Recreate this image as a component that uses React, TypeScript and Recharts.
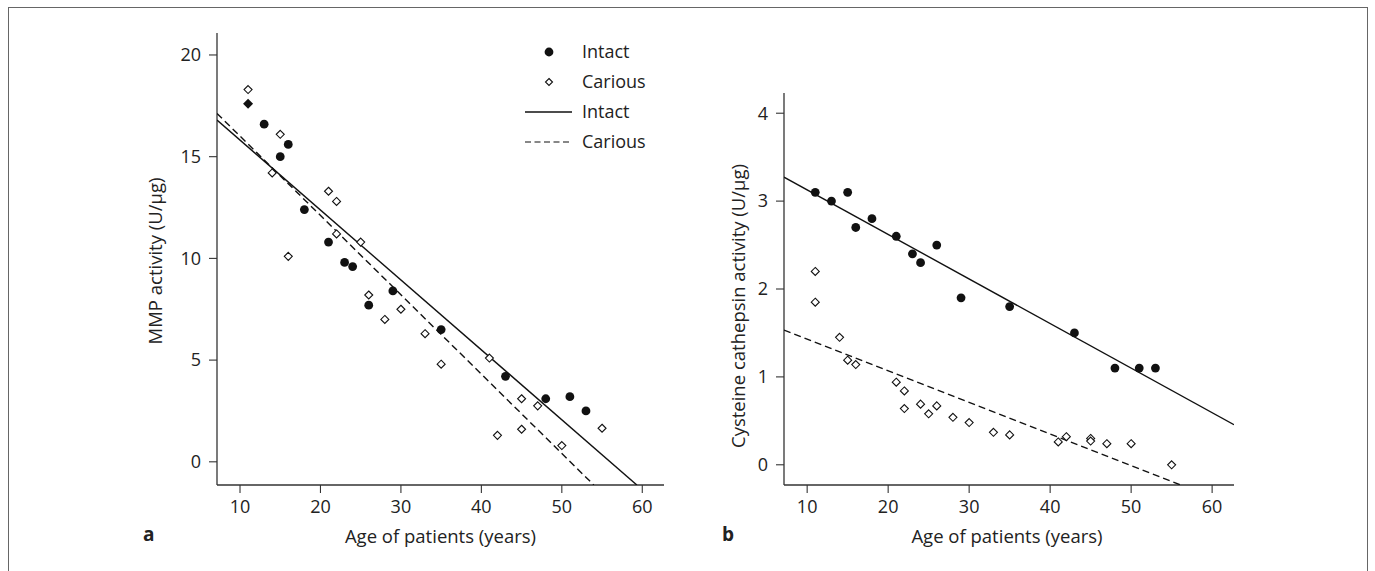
import React from "react";
import { ScatterChart, Scatter, XAxis, YAxis } from "recharts";

const FONT = "'Open Sans', 'Noto Sans', sans-serif";
const INK = "#111";
const AXIS = "#333";
const TEXT = "#222";

// Panel a: MMP activity (U/µg)
const intactAgesA = [11, 13, 15, 16, 18, 21, 23, 24, 26, 29, 35, 43, 48, 51, 53];
const intactMmp = [17.6, 16.6, 15.0, 15.6, 12.4, 10.8, 9.8, 9.6, 7.7, 8.4, 6.5, 4.2, 3.1, 3.2, 2.5];
const cariousAgesA = [11, 14, 15, 16, 21, 22, 22, 25, 26, 28, 30, 33, 35, 41, 42, 45, 45, 47, 50, 55];
const cariousMmp = [18.3, 14.2, 16.1, 10.1, 13.3, 12.8, 11.2, 10.8, 8.2, 7.0, 7.5, 6.3, 4.8, 5.1, 1.3, 3.1, 1.6, 2.75, 0.8, 1.65];
const intactFitA = [19.25, -0.3437]; // intercept, slope
const cariousFitA = [19.91, -0.39];

// Panel b: Cysteine cathepsin activity (U/µg)
const intactAgesB = [11, 13, 15, 16, 18, 21, 23, 24, 26, 29, 35, 43, 48, 51, 53];
const intactCath = [3.1, 3.0, 3.1, 2.7, 2.8, 2.6, 2.4, 2.3, 2.5, 1.9, 1.8, 1.5, 1.1, 1.1, 1.1];
const cariousAgesB = [11, 11, 14, 15, 16, 21, 22, 22, 24, 25, 26, 28, 30, 33, 35, 41, 42, 45, 45, 47, 50, 55];
const cariousCath = [2.2, 1.85, 1.45, 1.19, 1.14, 0.94, 0.84, 0.64, 0.69, 0.58, 0.67, 0.54, 0.48, 0.37, 0.34, 0.26, 0.32, 0.3, 0.27, 0.24, 0.24, 0.0];
const intactFitB = [3.635, -0.0507];
const cariousFitB = [1.79, -0.036];

const xTicks = [10, 20, 30, 40, 50, 60];
const yTicksA = [0, 5, 10, 15, 20];
const yTicksB = [0, 1, 2, 3, 4];
const xDomain: [number, number] = [7.14, 62.7];
const yDomainA: [number, number] = [-1.14, 21.08];
const yDomainB: [number, number] = [-0.23, 4.23];

const legendLabels = ["Intact", "Carious", "Intact", "Carious"];
const xTitle = "Age of patients (years)";
const yTitleA = "MMP activity (U/μg)";
const yTitleB = "Cysteine cathepsin activity (U/μg)";

const toPoints = (xs: number[], ys: number[]) => xs.map((x, i) => ({ x, y: ys[i] }));

// endpoints of a fitted line, clipped to the plotting box
const fitSegment = (fit: number[], xd: [number, number], yd: [number, number]) => {
  const [a, b] = fit;
  const f = (x: number) => a + b * x;
  let x0 = xd[0];
  if (f(x0) > yd[1]) x0 = (yd[1] - a) / b;
  let x1 = xd[1];
  if (f(x1) < yd[0]) x1 = (yd[0] - a) / b;
  return [
    { x: x0, y: f(x0) },
    { x: x1, y: f(x1) },
  ];
};

const Dot = (p: any) => <circle cx={p.cx} cy={p.cy} r={4.4} fill={INK} />;
const OpenDiamond = (p: any) => (
  <polygon
    points={`${p.cx},${p.cy - 4} ${p.cx + 4},${p.cy} ${p.cx},${p.cy + 4} ${p.cx - 4},${p.cy}`}
    fill="#fff"
    stroke={INK}
    strokeWidth={1.1}
  />
);
const DotOrFilledDiamond = (p: any) =>
  p.index === 0 ? (
    <polygon
      points={`${p.cx},${p.cy - 5} ${p.cx + 5},${p.cy} ${p.cx},${p.cy + 5} ${p.cx - 5},${p.cy}`}
      fill={INK}
    />
  ) : (
    <Dot {...p} />
  );
const NoShape = () => <g />;

const FS = 18;
const tickStyle = { fontSize: FS, fill: TEXT, fontFamily: FONT };

function Panel(props: {
  left: number;
  width: number;
  margin: any;
  yWidth: number;
  yDomain: [number, number];
  yTicks: number[];
  intact: { x: number; y: number }[];
  carious: { x: number; y: number }[];
  intactFit: { x: number; y: number }[];
  cariousFit: { x: number; y: number }[];
  firstDiamond?: boolean;
}) {
  return (
    <div style={{ position: "absolute", left: props.left, top: 0 }}>
      <ScatterChart width={props.width} height={571} margin={props.margin}>
        <XAxis
          type="number"
          dataKey="x"
          domain={xDomain}
          ticks={xTicks}
          allowDataOverflow
          height={40}
          tickSize={8}
          tickMargin={7}
          tick={tickStyle}
          stroke={AXIS}
          axisLine={{ stroke: AXIS, strokeWidth: 1.3 }}
          tickLine={{ stroke: AXIS, strokeWidth: 1.1 }}
        />
        <YAxis
          type="number"
          dataKey="y"
          domain={props.yDomain}
          ticks={props.yTicks}
          allowDataOverflow
          width={props.yWidth}
          tickSize={8}
          tickMargin={8}
          tick={tickStyle}
          stroke={AXIS}
          axisLine={{ stroke: AXIS, strokeWidth: 1.3 }}
          tickLine={{ stroke: AXIS, strokeWidth: 1.1 }}
        />
        <Scatter
          data={props.intactFit}
          line={{ stroke: INK, strokeWidth: 1.4 }}
          shape={NoShape}
          isAnimationActive={false}
        />
        <Scatter
          data={props.cariousFit}
          line={{ stroke: INK, strokeWidth: 1.4, strokeDasharray: "7 4" }}
          shape={NoShape}
          isAnimationActive={false}
        />
        <Scatter data={props.carious} shape={OpenDiamond} isAnimationActive={false} />
        <Scatter data={props.intact} shape={props.firstDiamond ? DotOrFilledDiamond : Dot} isAnimationActive={false} />
      </ScatterChart>
    </div>
  );
}

function Overlay() {
  const tx = 582;
  const rows = [52, 82, 112, 142];
  const TS = 18.5;
  return (
    <svg
      width={1375}
      height={571}
      style={{ position: "absolute", left: 0, top: 0, pointerEvents: "none" }}
    >
      <circle cx={549} cy={rows[0]} r={4.4} fill={INK} />
      <polygon
        points={`549,${rows[1] - 3.5} 552.5,${rows[1]} 549,${rows[1] + 3.5} 545.5,${rows[1]}`}
        fill="#fff"
        stroke={INK}
        strokeWidth={1.1}
      />
      <line x1={525} x2={572} y1={rows[2]} y2={rows[2]} stroke={INK} strokeWidth={1.4} />
      <line x1={525} x2={572} y1={rows[3]} y2={rows[3]} stroke={INK} strokeWidth={1.2} strokeDasharray="6 3.5" />
      {legendLabels.map((t, i) => (
        <text key={i} x={tx} y={rows[i]} dy="0.35em" fontSize={FS} fill={TEXT} fontFamily={FONT}>
          {t}
        </text>
      ))}
      <text x={440.5} y={543} textAnchor="middle" fontSize={TS} fill={TEXT} fontFamily={FONT}>
        {xTitle}
      </text>
      <text x={1007} y={543} textAnchor="middle" fontSize={TS} fill={TEXT} fontFamily={FONT}>
        {xTitle}
      </text>
      <text
        x={162}
        y={261}
        textAnchor="middle"
        transform="rotate(-90 162 261)"
        fontSize={TS}
        fill={TEXT}
        fontFamily={FONT}
      >
        {yTitleA}
      </text>
      <text
        x={745}
        y={306}
        textAnchor="middle"
        transform="rotate(-90 745 306)"
        fontSize={TS}
        fill={TEXT}
        fontFamily={FONT}
      >
        {yTitleB}
      </text>
      <text x={143} y={541} fontSize={19} fontWeight="bold" fill={TEXT} fontFamily={FONT}>
        a
      </text>
      <text x={722} y={541} fontSize={19} fontWeight="bold" fill={TEXT} fontFamily={FONT}>
        b
      </text>
    </svg>
  );
}

export default function App() {
  return (
    <div
      style={{
        position: "relative",
        width: 1375,
        height: 571,
        overflow: "hidden",
        background: "#fff",
        fontFamily: FONT,
      }}
    >
      <style>{`html,body{margin:0;padding:0;overflow:hidden;background:#fff}`}</style>
      <div
        style={{
          position: "absolute",
          left: 8,
          top: 7,
          width: 1360,
          height: 700,
          border: "1.5px solid #666",
          boxSizing: "border-box",
        }}
      />
      <Panel
        left={0}
        width={700}
        margin={{ top: 33, right: 36, bottom: 46, left: 137 }}
        yWidth={80}
        yDomain={yDomainA}
        yTicks={yTicksA}
        intact={toPoints(intactAgesA, intactMmp)}
        carious={toPoints(cariousAgesA, cariousMmp)}
        intactFit={fitSegment(intactFitA, xDomain, yDomainA)}
        cariousFit={fitSegment(cariousFitA, xDomain, yDomainA)}
        firstDiamond
      />
      <Panel
        left={700}
        width={675}
        margin={{ top: 93, right: 141, bottom: 46, left: 24 }}
        yWidth={60}
        yDomain={yDomainB}
        yTicks={yTicksB}
        intact={toPoints(intactAgesB, intactCath)}
        carious={toPoints(cariousAgesB, cariousCath)}
        intactFit={fitSegment(intactFitB, xDomain, yDomainB)}
        cariousFit={fitSegment(cariousFitB, xDomain, yDomainB)}
      />
      <Overlay />
    </div>
  );
}
